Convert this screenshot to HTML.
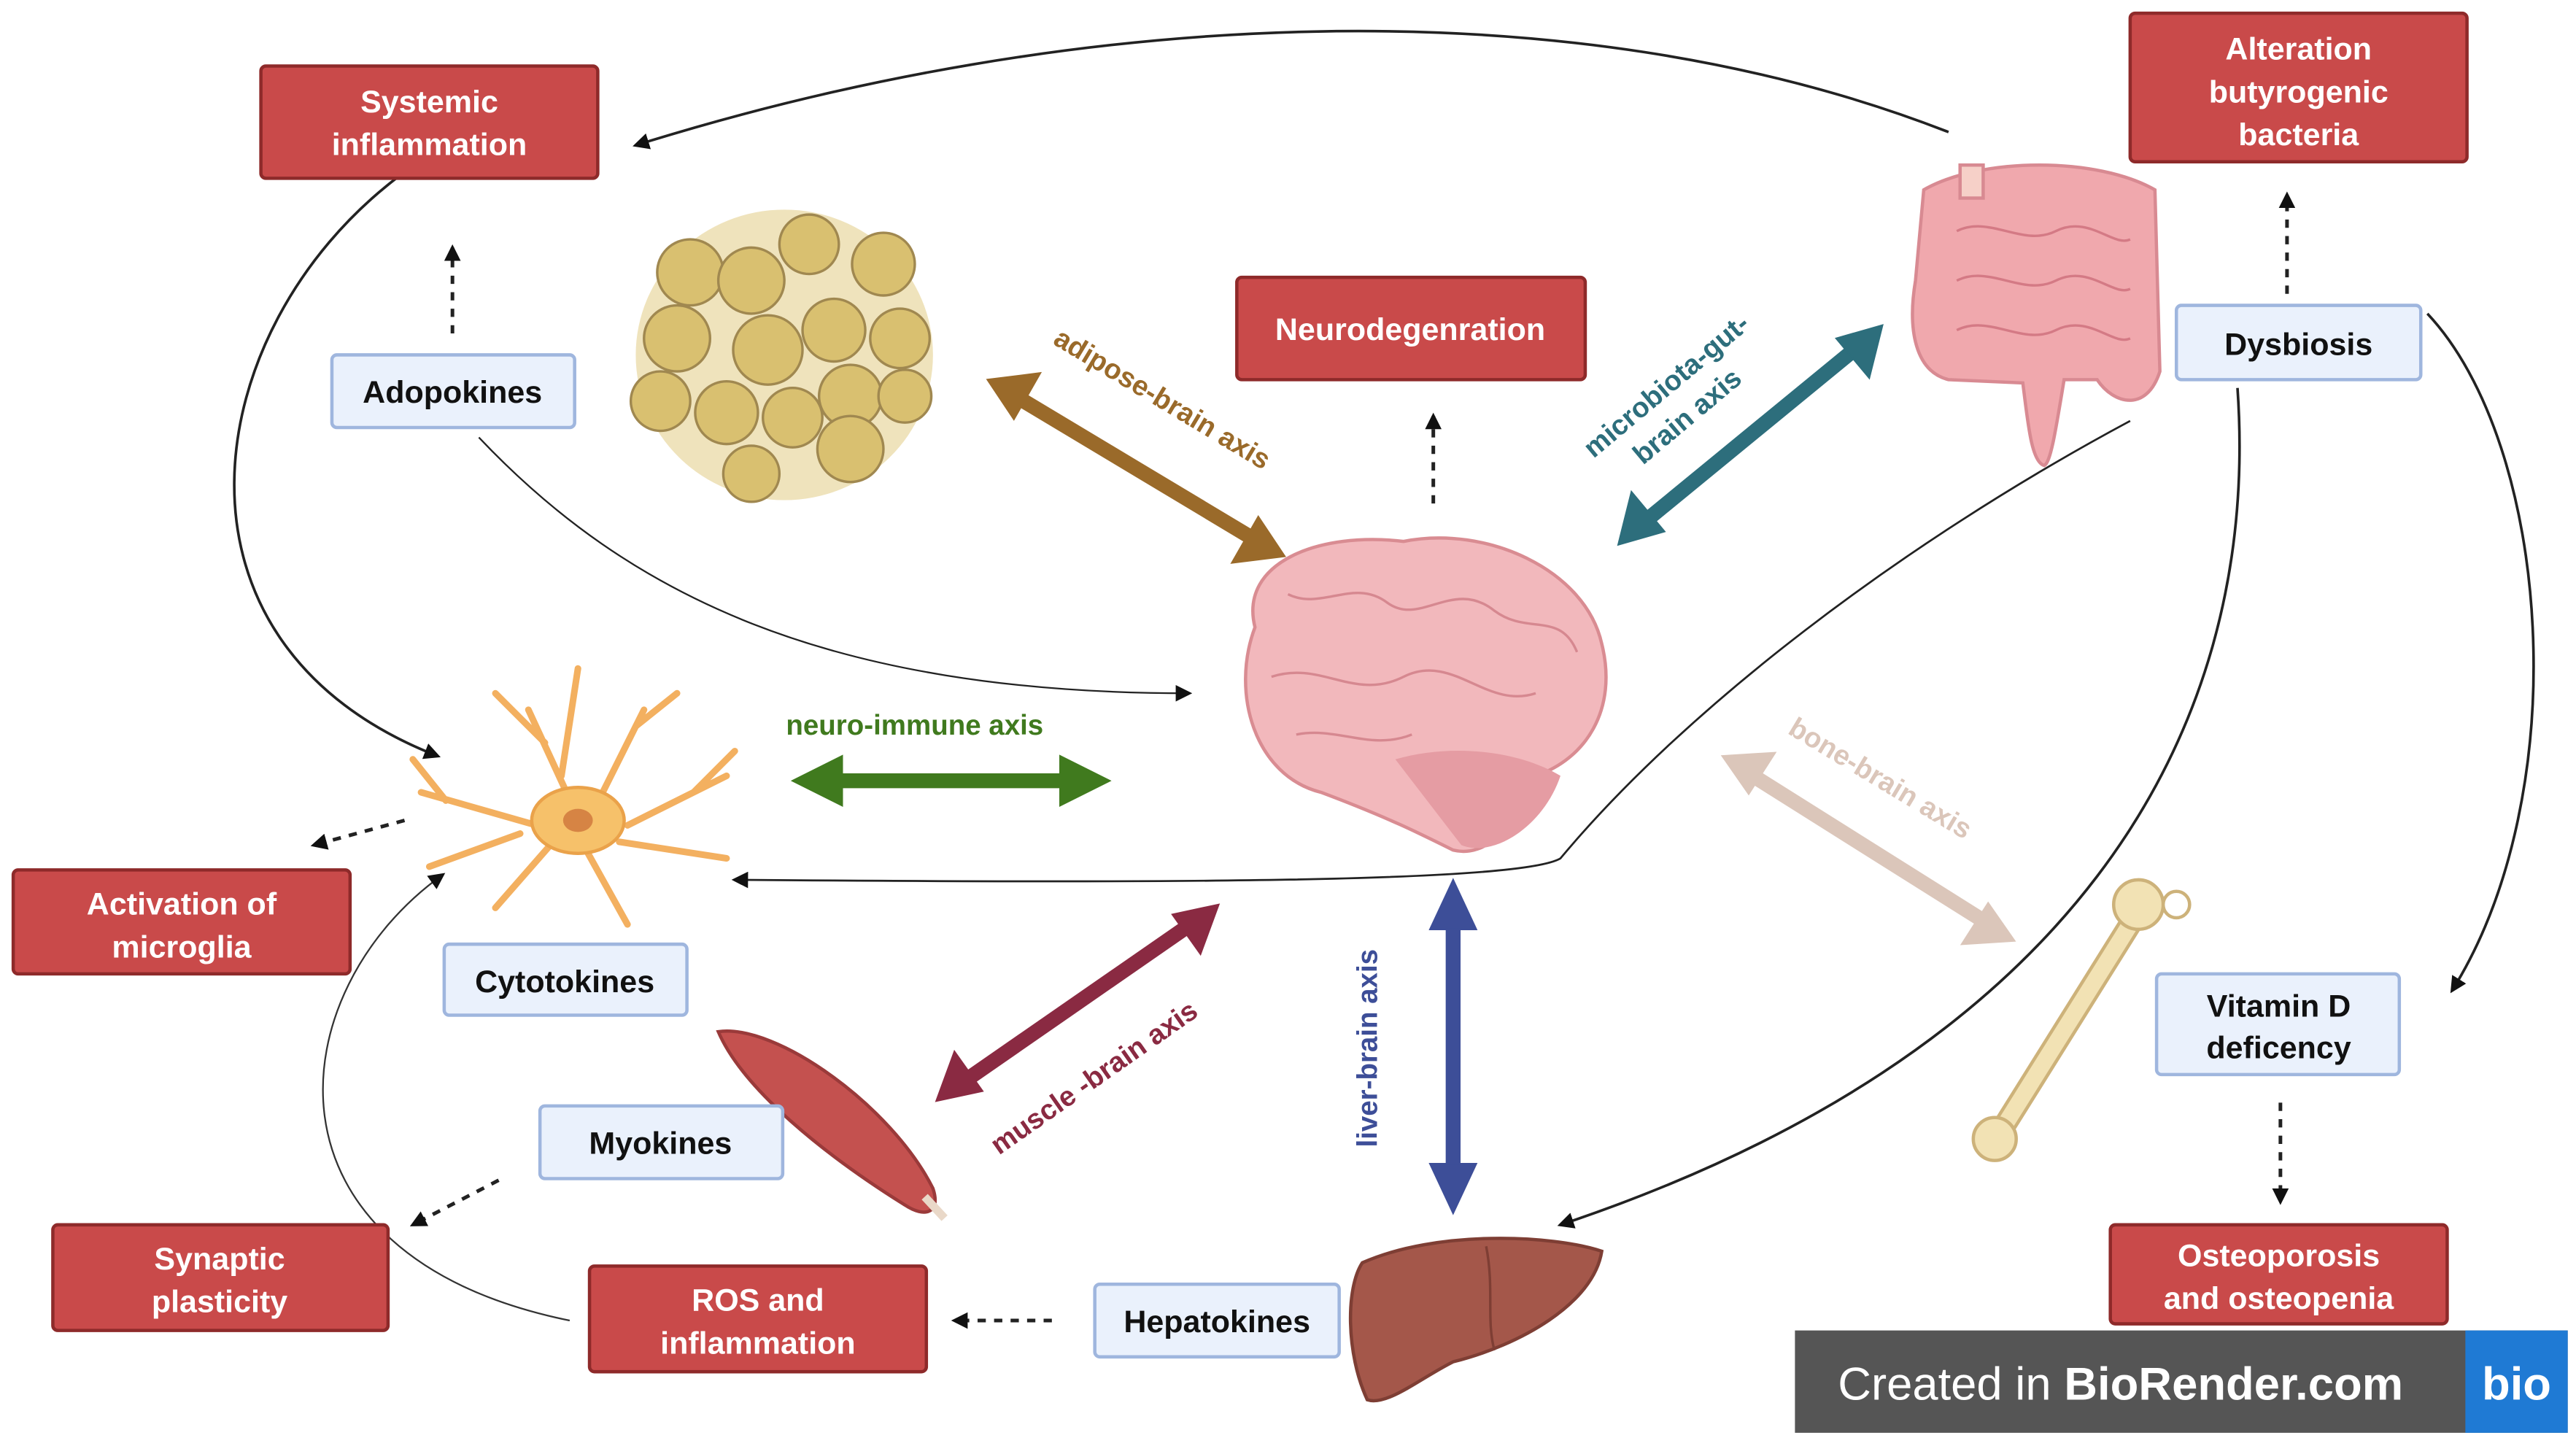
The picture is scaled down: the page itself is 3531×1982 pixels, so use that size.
<!DOCTYPE html>
<html><head><meta charset="utf-8"><style>
html,body{margin:0;padding:0;background:#fff;}
svg{display:block;}
text{font-family:"Liberation Sans",sans-serif;}
</style></head><body>
<svg width="3531" height="1982" viewBox="0 0 1560 876" preserveAspectRatio="none" xmlns="http://www.w3.org/2000/svg">
<defs>
<marker id="ah" markerWidth="10" markerHeight="10" refX="8" refY="5" orient="auto" markerUnits="userSpaceOnUse"><path d="M0,0 L10,5 L0,10 z" fill="#111"/></marker>
</defs>
<rect width="1560" height="876" fill="#fff"/>

<!-- thin curves -->
<g fill="none" stroke="#222" stroke-width="1.6">
<path d="M1180,80 C950,-10 650,5 385,88" marker-end="url(#ah)"/>
<path d="M240,108 C120,200 90,390 265,458" marker-end="url(#ah)"/>
<path d="M290,265 C380,360 500,420 720,420" marker-end="url(#ah)" stroke-width="1"/>
<path d="M1290,255 C1150,330 1020,430 945,520 C920,535 700,535 445,533" marker-end="url(#ah)" stroke-width="1.2"/>
<path d="M1355,235 C1370,450 1250,640 945,742" marker-end="url(#ah)"/>
<path d="M1470,190 C1545,270 1560,480 1485,600" marker-end="url(#ah)"/>
<path d="M345,800 C150,760 170,600 268,530" marker-end="url(#ah)" stroke="#333" stroke-width="1"/>
</g>
<!-- dashed -->
<g fill="none" stroke="#222" stroke-width="2.2" stroke-dasharray="5,5">
<path d="M274,202 L274,150" marker-end="url(#ah)"/>
<path d="M868,305 L868,252" marker-end="url(#ah)"/>
<path d="M1385,178 L1385,118" marker-end="url(#ah)"/>
<path d="M245,497 L190,512" marker-end="url(#ah)"/>
<path d="M302,715 L250,742" marker-end="url(#ah)"/>
<path d="M637,800 L578,800" marker-end="url(#ah)"/>
<path d="M1381,668 L1381,728" marker-end="url(#ah)"/>
</g>

<!-- fat cells -->
<g stroke="#a08850" stroke-width="1.5">
<ellipse cx="475" cy="215" rx="90" ry="88" fill="#efe3bc" stroke="none"/>
<g fill="#d9c070">
<circle cx="418" cy="165" r="20"/><circle cx="455" cy="170" r="20"/><circle cx="490" cy="148" r="18"/><circle cx="535" cy="160" r="19"/>
<circle cx="410" cy="205" r="20"/><circle cx="465" cy="212" r="21"/><circle cx="505" cy="200" r="19"/><circle cx="545" cy="205" r="18"/>
<circle cx="400" cy="243" r="18"/><circle cx="440" cy="250" r="19"/><circle cx="480" cy="253" r="18"/><circle cx="515" cy="240" r="19"/><circle cx="548" cy="240" r="16"/>
<circle cx="455" cy="287" r="17"/><circle cx="515" cy="272" r="20"/>
</g></g>

<!-- brain -->
<g>
<path d="M760,380 C750,340 800,322 850,328 C900,318 960,345 970,390 C980,430 960,460 930,470 C920,500 900,520 880,515 C860,505 840,495 800,480 C760,470 745,420 760,380 z" fill="#f2b8bc" stroke="#d98c92" stroke-width="2"/>
<path d="M845,460 C880,450 920,455 945,470 C935,500 905,520 885,512 z" fill="#e59ca3"/>
<g fill="none" stroke="#d68890" stroke-width="1.5">
<path d="M780,360 C800,370 820,350 840,365 C860,380 880,350 905,370 C925,385 945,370 955,395"/>
<path d="M770,410 C800,400 820,425 850,410 C880,395 900,430 930,420"/>
<path d="M785,445 C810,440 830,455 855,445"/>
</g></g>

<!-- gut -->
<g fill="#f0a8ad" stroke="#d88a92" stroke-width="2">
<path d="M1165,115 C1200,95 1270,95 1305,115 L1308,225 C1300,250 1280,245 1270,230 L1250,230 C1245,260 1242,280 1238,282 C1230,280 1228,255 1225,232 L1180,230 C1160,225 1155,200 1160,170 z"/>
<g fill="none" stroke="#d47a85" stroke-width="1.5">
<path d="M1185,140 C1205,130 1225,150 1245,140 C1265,130 1280,150 1290,145"/>
<path d="M1185,170 C1205,160 1225,180 1245,170 C1265,160 1280,180 1290,175"/>
<path d="M1185,200 C1205,190 1225,210 1245,200 C1265,190 1280,210 1290,205"/>
</g>
<rect x="1187" y="100" width="14" height="20" fill="#f6d0c8"/>
</g>

<!-- neuron -->
<g stroke="#f3b060" stroke-width="4" fill="none" stroke-linecap="round">
<path d="M350,495 L320,430 M330,450 L300,420 M340,470 L350,405 M360,490 L390,430 M385,440 L410,420 M380,500 L440,470 M420,480 L445,455 M375,510 L440,520 M355,515 L380,560 M335,510 L300,550 M325,500 L255,480 M270,485 L250,460 M315,505 L260,525"/>
</g>
<ellipse cx="350" cy="497" rx="28" ry="20" fill="#f6c16a" stroke="#eaa24a" stroke-width="2"/>
<ellipse cx="350" cy="497" rx="9" ry="7" fill="#d68444"/>

<!-- muscle -->
<path d="M435,625 C470,620 540,670 565,720 C570,735 560,738 548,730 C500,700 450,660 435,625 z" fill="#c4514f" stroke="#9a3a3a" stroke-width="2"/>
<path d="M560,725 L572,738" stroke="#e9d8c8" stroke-width="5"/>

<!-- liver -->
<path d="M825,765 C870,745 940,748 970,758 C965,790 920,815 880,825 C860,835 840,852 828,848 C815,820 815,780 825,765 z" fill="#a4574a" stroke="#7e3e34" stroke-width="2"/>
<path d="M900,755 C905,780 900,800 905,818" stroke="#7e3e34" stroke-width="1.5" fill="none"/>

<!-- bone -->
<g fill="#f2e2b4" stroke="#cdb27a" stroke-width="2">
<path d="M1290,560 L1215,680" stroke="#cdb27a" stroke-width="14" stroke-linecap="round"/>
<path d="M1290,560 L1215,680" stroke="#f2e2b4" stroke-width="10" stroke-linecap="round"/>
<circle cx="1295" cy="548" r="15"/><circle cx="1318" cy="548" r="8" fill="#fff"/>
<circle cx="1208" cy="690" r="13"/>
</g>

<!-- thick double arrows -->
<g stroke-linecap="butt">
<g stroke="#9a6a2a" fill="#9a6a2a"><line x1="615" y1="240" x2="760" y2="327" stroke-width="9"/>
<polygon points="598,230 630,226 614,254"/><polygon points="778,337 746,341 762,313"/></g>
<g stroke="#2d6e7c" fill="#2d6e7c"><line x1="996" y1="316" x2="1124" y2="211" stroke-width="9"/>
<polygon points="980,330 988,298 1008,322"/><polygon points="1140,197 1132,229 1112,205"/></g>
<g stroke="#407a1e" fill="#407a1e"><line x1="500" y1="473" x2="652" y2="473" stroke-width="9"/>
<polygon points="480,473 510,458 510,488"/><polygon points="672,473 642,458 642,488"/></g>
<g stroke="#8a2a42" fill="#8a2a42"><line x1="584" y1="655" x2="721" y2="560" stroke-width="9"/>
<polygon points="567,667 578,637 595,661"/><polygon points="738,548 727,578 710,554"/></g>
<g stroke="#3d4e98" fill="#3d4e98"><line x1="880" y1="553" x2="880" y2="715" stroke-width="9"/>
<polygon points="880,533 866,563 894,563"/><polygon points="880,735 866,705 894,705"/></g>
<g stroke="#dbc6ba" fill="#dbc6ba"><line x1="1060" y1="469" x2="1203" y2="559" stroke-width="9"/>
<polygon points="1043,458 1075,456 1059,481"/><polygon points="1220,570 1188,572 1204,547"/></g>
</g>

<!-- axis labels -->
<g font-size="17" font-weight="bold">
<text transform="translate(637,208) rotate(31)" fill="#9a6a2a">adipose-brain axis</text>
<text transform="translate(965,278) rotate(-40)" fill="#2d6e7c">microbiota-gut-</text>
<text transform="translate(995,282) rotate(-40)" fill="#2d6e7c">brain axis</text>
<text x="476" y="445" fill="#407a1e">neuro-immune axis</text>
<text transform="translate(605,700) rotate(-35)" fill="#8a2a42">muscle -brain axis</text>
<text transform="translate(834,695) rotate(-90)" fill="#3d4e98">liver-brain axis</text>
<text transform="translate(1082,444) rotate(31)" fill="#dbc6ba">bone-brain axis</text>
</g>

<!-- red boxes -->
<g fill="#c94a4a" stroke="#8e2a2a" stroke-width="2">
<rect x="158" y="40" width="204" height="68" rx="3"/>
<rect x="1290" y="8" width="204" height="90" rx="3"/>
<rect x="749" y="168" width="211" height="62" rx="3"/>
<rect x="8" y="527" width="204" height="63" rx="3"/>
<rect x="32" y="742" width="203" height="64" rx="3"/>
<rect x="357" y="767" width="204" height="64" rx="3"/>
<rect x="1278" y="742" width="204" height="60" rx="3"/>
</g>
<g fill="#fff" font-size="19" font-weight="bold" text-anchor="middle">
<text x="260" y="68">Systemic</text><text x="260" y="94">inflammation</text>
<text x="1392" y="36">Alteration</text><text x="1392" y="62">butyrogenic</text><text x="1392" y="88">bacteria</text>
<text x="854" y="206">Neurodegenration</text>
<text x="110" y="554">Activation of</text><text x="110" y="580">microglia</text>
<text x="133" y="769">Synaptic</text><text x="133" y="795">plasticity</text>
<text x="459" y="794">ROS and</text><text x="459" y="820">inflammation</text>
<text x="1380" y="767">Osteoporosis</text><text x="1380" y="793">and osteopenia</text>
</g>

<!-- light boxes -->
<g fill="#eaf1fc" stroke="#9fb6de" stroke-width="2">
<rect x="201" y="215" width="147" height="44" rx="3"/>
<rect x="1318" y="185" width="148" height="45" rx="3"/>
<rect x="269" y="572" width="147" height="43" rx="3"/>
<rect x="327" y="670" width="147" height="44" rx="3"/>
<rect x="663" y="778" width="148" height="44" rx="3"/>
<rect x="1306" y="590" width="147" height="61" rx="3"/>
</g>
<g fill="#111" font-size="19" font-weight="bold" text-anchor="middle">
<text x="274" y="244">Adopokines</text>
<text x="1392" y="215">Dysbiosis</text>
<text x="342" y="601">Cytotokines</text>
<text x="400" y="699">Myokines</text>
<text x="737" y="807">Hepatokines</text>
<text x="1380" y="616">Vitamin D</text><text x="1380" y="641">deficency</text>
</g>

<!-- watermark -->
<rect x="1087" y="806" width="468" height="62" fill="#555"/>
<rect x="1493" y="806" width="62" height="62" fill="#1f7ad4"/>
<text x="1113" y="848" font-size="28" fill="#fff">Created in <tspan font-weight="bold">BioRender.com</tspan></text>
<text x="1524" y="848" font-size="28" fill="#fff" font-weight="bold" text-anchor="middle">bio</text>
</svg>
</body></html>
